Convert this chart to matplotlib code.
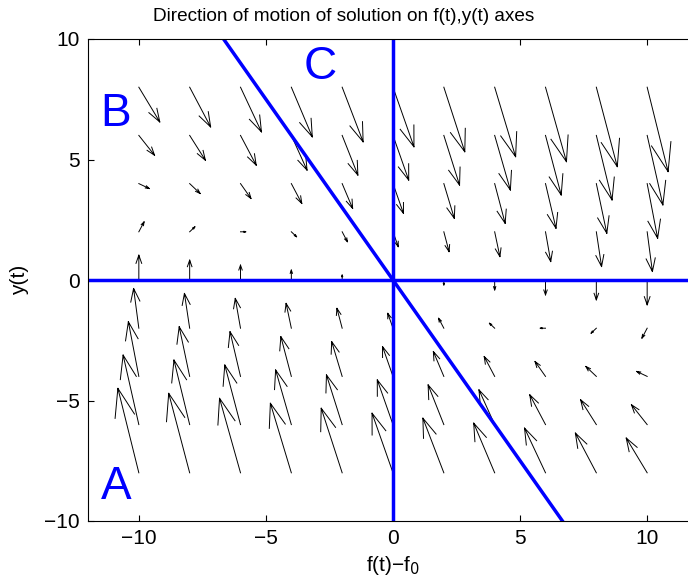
import numpy as np
import matplotlib
matplotlib.use("Agg")
import matplotlib.pyplot as plt

# grid of arrow tails
x_grid = [-10, -8, -6, -4, -2, 0, 2, 4, 6, 8, 10]
y_grid = [-8, -6, -4, -2, 0, 2, 4, 6, 8]

# direction components (rows follow y_grid, columns follow x_grid)
u_rows = [
    [-8] * 11,
    [-6] * 11,
    [-4] * 11,
    [-2] * 11,
    [0] * 11,
    [2] * 11,
    [4] * 11,
    [6] * 11,
    [8] * 11,
]
v_rows = [
    [34, 32, 30, 28, 26, 24, 22, 20, 18, 16, 14],
    [28, 26, 24, 22, 20, 18, 16, 14, 12, 10, 8],
    [22, 20, 18, 16, 14, 12, 10, 8, 6, 4, 2],
    [16, 14, 12, 10, 8, 6, 4, 2, 0, -2, -4],
    [10, 8, 6, 4, 2, 0, -2, -4, -6, -8, -10],
    [4, 2, 0, -2, -4, -6, -8, -10, -12, -14, -16],
    [-2, -4, -6, -8, -10, -12, -14, -16, -18, -20, -22],
    [-8, -10, -12, -14, -16, -18, -20, -22, -24, -26, -28],
    [-14, -16, -18, -20, -22, -24, -26, -28, -30, -32, -34],
]

boundary_slope = -1.5
region_labels = ["A", "B", "C"]
region_pos = [(-11.5, -8.6), (-11.5, 6.9), (-3.5, 8.85)]

plt.rcParams["font.family"] = ["Liberation Sans", "DejaVu Sans"]

X, Y = np.meshgrid(x_grid, y_grid)
U = np.array(u_rows, dtype=float)
V = np.array(v_rows, dtype=float)

# matlab-style autoscale, scale factor 2
dx, dy = 2.0, 2.0
length = np.sqrt((U / dx) ** 2 + (V / dy) ** 2)
k = 2 * 0.9 / length.max()
U = U * k
V = V * k

# shafts + matlab-style open arrowheads
alpha, beta = 0.33, 0.33
xs, ys = [], []
for x0, y0, u, v in zip(X.ravel(), Y.ravel(), U.ravel(), V.ravel()):
    xs += [x0, x0 + u, np.nan]
    ys += [y0, y0 + v, np.nan]
    xs += [x0 + u - alpha * (u + beta * v), x0 + u, x0 + u - alpha * (u - beta * v), np.nan]
    ys += [y0 + v - alpha * (v - beta * u), y0 + v, y0 + v - alpha * (v + beta * u), np.nan]

fig = plt.figure(figsize=(6.88, 5.88), dpi=100)
W, H = 688.0, 588.0
ax = fig.add_axes([88 / W, (H - 521) / H, 610 / W, 482 / H])

ax.plot(xs, ys, color="black", lw=0.7)
ax.axhline(0, color=(0, 0, 1), lw=2.5)
ax.axvline(0, color=(0, 0, 1), lw=2.5)
ax.axline((0, 0), slope=boundary_slope, color=(0, 0, 1), lw=2.5)

for lab, (tx, ty) in zip(region_labels, region_pos):
    ax.text(tx, ty, lab, color=(0, 0, 1), fontsize=33, ha="left", va="center")

ax.set_xlim(-12, 12)
ax.set_ylim(-10, 10)
ax.set_xticks([-10, -5, 0, 5, 10])
ax.set_yticks([-10, -5, 0, 5, 10])
ax.set_xticklabels(["\u221210", "\u22125", "0", "5", "10"])
ax.set_yticklabels(["\u221210", "\u22125", "0", "5", "10"])
ax.tick_params(direction="in", length=4.5, top=True, right=True, labelsize=15, pad=6)
for sp in ax.spines.values():
    sp.set_linewidth(0.8)

ax.set_xlabel("f(t)\u2212f$_0$", fontsize=15, labelpad=4)
ax.set_ylabel("y(t)", fontsize=15, labelpad=11)
ax.set_title("Direction of motion of solution on f(t),y(t) axes", fontsize=13.7,
             x=0.419, pad=13)

fig.savefig("out.png", dpi=100)
